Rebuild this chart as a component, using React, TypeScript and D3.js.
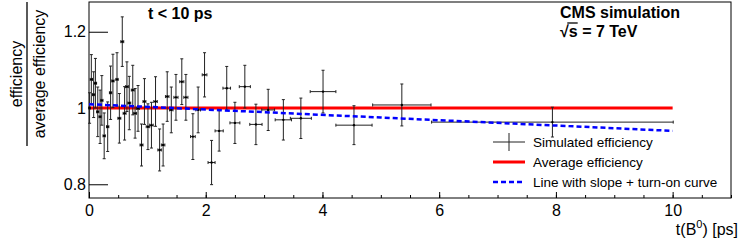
import React, { useEffect, useRef } from "react";
import * as d3 from "d3";

// simulated efficiency points (bin centre, value, y error, half bin width)
const times = [
  0.01, 0.04, 0.08, 0.11, 0.15, 0.19, 0.22, 0.26, 0.32, 0.37, 0.41, 0.48,
  0.52, 0.57, 0.61, 0.65, 0.69, 0.75, 0.79, 0.84, 0.9, 0.95, 1.01, 1.07,
  1.14, 1.21, 1.27, 1.34, 1.41, 1.49, 1.59, 1.66, 1.78, 1.87, 1.98, 2.1,
  2.23, 2.36, 2.5, 2.67, 2.86, 3.07, 3.33, 3.63, 4.01, 4.54, 5.36, 7.94,
];
const effs = [
  1.0, 1.075, 1.035, 1.065, 0.99, 0.977, 1.02, 0.927, 0.951, 1.04, 1.071, 1.075,
  0.973, 1.174, 0.986, 1.056, 1.013, 1.047, 0.986, 0.999, 0.903, 1.017, 0.951, 0.955,
  1.017, 0.89, 0.903, 1.03, 0.995, 1.028, 1.069, 1.028, 0.925, 0.995, 1.087, 0.857,
  0.94, 1.052, 0.961, 1.056, 0.957, 0.995, 0.969, 0.973, 1.043, 0.955, 1.008, 0.963,
];
const errs = [
  0.04, 0.065, 0.06, 0.065, 0.065, 0.07, 0.065, 0.06, 0.065, 0.07, 0.07, 0.07,
  0.065, 0.065, 0.07, 0.065, 0.07, 0.065, 0.065, 0.06, 0.055, 0.06, 0.06, 0.06,
  0.065, 0.055, 0.055, 0.065, 0.06, 0.06, 0.06, 0.06, 0.06, 0.06, 0.058, 0.058,
  0.053, 0.057, 0.054, 0.056, 0.053, 0.054, 0.053, 0.053, 0.056, 0.051, 0.055, 0.039,
];
const halfWidths = [
  0.015, 0.02, 0.02, 0.02, 0.02, 0.02, 0.02, 0.02, 0.02, 0.02, 0.02, 0.02,
  0.025, 0.025, 0.025, 0.025, 0.025, 0.025, 0.025, 0.025, 0.025, 0.025, 0.03, 0.03,
  0.03, 0.03, 0.03, 0.03, 0.03, 0.035, 0.035, 0.035, 0.04, 0.04, 0.04, 0.06,
  0.07, 0.065, 0.085, 0.095, 0.105, 0.11, 0.14, 0.18, 0.22, 0.31, 0.5, 2.07,
];

// average efficiency and fitted curve
const avgTimes = [0, 10];
const avgValues = [1, 1];
const fitTimes = [0, 2.5, 5, 7.5, 10];
const fitValues = [1.01, 0.9925, 0.975, 0.9575, 0.94];

const xTicks = [0, 2, 4, 6, 8, 10];
const xMinorTicks = d3.range(0, 11.01, 0.5);
const yTicks = [0.8, 1, 1.2];
const legendLabels = [
  "Simulated efficiency",
  "Average efficiency",
  "Line with slope + turn-on curve",
];

const font = "'Liberation Sans', Arial, Helvetica, sans-serif";

const drawChart = (node: SVGSVGElement) => {
  const width = 747;
  const height = 241;
  const marginTop = 2;
  const marginRight = 16;
  const marginBottom = 43;
  const marginLeft = 89;

  const svg = d3.select(node);
  svg.selectAll("*").remove();
  svg.attr("width", width).attr("height", height);

  svg.append("rect").attr("width", width).attr("height", height).attr("fill", "#fff");

  const x = d3.scaleLinear().domain([0, 11]).range([marginLeft, width - marginRight]);
  const y = d3.scaleLinear().domain([0.764, 1.278]).range([height - marginBottom, marginTop]);

  // frame
  svg
    .append("rect")
    .attr("x", marginLeft)
    .attr("y", marginTop)
    .attr("width", width - marginRight - marginLeft)
    .attr("height", height - marginBottom - marginTop)
    .attr("fill", "none")
    .attr("stroke", "#000");

  // x axis, ticks pointing inside
  const xAxis = svg
    .append("g")
    .attr("transform", `translate(0,${height - marginBottom})`)
    .call(d3.axisBottom(x).tickValues(xTicks).tickSizeInner(-6).tickSizeOuter(0).tickPadding(7));
  svg
    .append("g")
    .attr("transform", `translate(0,${height - marginBottom})`)
    .call(d3.axisBottom(x).tickValues(xMinorTicks).tickSizeInner(-3).tickSizeOuter(0).tickFormat(() => ""));

  const yAxis = svg
    .append("g")
    .attr("transform", `translate(${marginLeft},0)`)
    .call(
      d3
        .axisLeft(y)
        .tickValues(yTicks)
        .tickSizeInner(-19)
        .tickSizeOuter(0)
        .tickPadding(3)
        .tickFormat((d) => String(d))
    );

  svg.selectAll(".domain").remove();
  svg.selectAll(".tick line").attr("stroke", "#000");
  [xAxis, yAxis].forEach((g) =>
    g.selectAll("text").attr("font-family", font).attr("font-size", 16).attr("fill", "#000")
  );

  // red average line
  const line = d3
    .line<number>()
    .x((d, i) => x(avgTimes[i]))
    .y((d) => y(d));
  svg
    .append("path")
    .attr("d", line(avgValues))
    .attr("fill", "none")
    .attr("stroke", "#ff0000")
    .attr("stroke-width", 3);

  // points with error bars
  const pts = svg.append("g").attr("stroke", "#222").attr("stroke-width", 1);
  times.forEach((t, i) => {
    const cx = x(t);
    const cy = y(effs[i]);
    const y0 = y(effs[i] - errs[i]);
    const y1 = y(effs[i] + errs[i]);
    const x0 = x(t - halfWidths[i]);
    const x1 = x(t + halfWidths[i]);
    pts.append("line").attr("x1", cx).attr("x2", cx).attr("y1", y0).attr("y2", y1);
    pts.append("line").attr("x1", cx - 1.5).attr("x2", cx + 1.5).attr("y1", y0).attr("y2", y0);
    pts.append("line").attr("x1", cx - 1.5).attr("x2", cx + 1.5).attr("y1", y1).attr("y2", y1);
    pts.append("line").attr("x1", x0).attr("x2", x1).attr("y1", cy).attr("y2", cy);
    pts.append("line").attr("x1", x0).attr("x2", x0).attr("y1", cy - 1.5).attr("y2", cy + 1.5);
    pts.append("line").attr("x1", x1).attr("x2", x1).attr("y1", cy - 1.5).attr("y2", cy + 1.5);
    pts.append("circle").attr("cx", cx).attr("cy", cy).attr("r", 1.2).attr("fill", "#000").attr("stroke", "none");
  });

  // blue fit curve
  const fit = d3
    .line<number>()
    .x((d, i) => x(fitTimes[i]))
    .y((d) => y(d));
  svg
    .append("path")
    .attr("d", fit(fitValues))
    .attr("fill", "none")
    .attr("stroke", "#0000ff")
    .attr("stroke-width", 2.5)
    .attr("stroke-dasharray", "5,3");

  // legend
  const lg = svg.append("g").attr("font-family", font).attr("font-size", 13.5);
  const ly = [142, 162, 182];
  lg.append("line").attr("x1", 493).attr("x2", 525).attr("y1", ly[0]).attr("y2", ly[0]).attr("stroke", "#222");
  lg.append("line").attr("x1", 509).attr("x2", 509).attr("y1", ly[0] - 9).attr("y2", ly[0] + 9).attr("stroke", "#222");
  lg.append("line").attr("x1", 493).attr("x2", 525).attr("y1", ly[1]).attr("y2", ly[1]).attr("stroke", "#ff0000").attr("stroke-width", 3);
  lg.append("line")
    .attr("x1", 493)
    .attr("x2", 525)
    .attr("y1", ly[2])
    .attr("y2", ly[2])
    .attr("stroke", "#0000ff")
    .attr("stroke-width", 2.5)
    .attr("stroke-dasharray", "5,3");
  legendLabels.forEach((l, i) => {
    lg.append("text").attr("x", 533).attr("y", ly[i]).attr("dy", "0.35em").text(l);
  });

  // labels
  svg
    .append("text")
    .attr("x", 148)
    .attr("y", 19)
    .attr("font-family", font)
    .attr("font-size", 16)
    .attr("font-weight", "bold")
    .text("t < 10 ps");
  svg
    .append("text")
    .attr("x", 560)
    .attr("y", 18)
    .attr("font-family", font)
    .attr("font-size", 16)
    .attr("font-weight", "bold")
    .text("CMS simulation");
  const sq = svg
    .append("text")
    .attr("x", 560)
    .attr("y", 37)
    .attr("font-family", font)
    .attr("font-size", 16)
    .attr("font-weight", "bold")
    .text("\u221As = 7 TeV");
  const sqNode = sq.node() as SVGTextElement;
  const w1 = sqNode.getSubStringLength(0, 1);
  const w2 = sqNode.getSubStringLength(0, 2);
  svg
    .append("line")
    .attr("x1", 560 + w1 - 1.5)
    .attr("x2", 560 + w2)
    .attr("y1", 37 - 14)
    .attr("y2", 37 - 14)
    .attr("stroke", "#000")
    .attr("stroke-width", 1.3);

  // x title
  const xt = svg
    .append("text")
    .attr("x", 738)
    .attr("y", 235)
    .attr("text-anchor", "end")
    .attr("font-family", font)
    .attr("font-size", 16);
  xt.append("tspan").text("t(B");
  xt.append("tspan").attr("font-size", 11).attr("dy", -7).text("0");
  xt.append("tspan").attr("dy", 7).text(") [ps]");

  // y title as a fraction
  const yt = svg
    .append("g")
    .attr("transform", "translate(27,74) rotate(-90)")
    .attr("font-family", font)
    .attr("font-size", 16)
    .attr("text-anchor", "middle");
  yt.append("text").attr("x", 0).attr("y", -5).text("efficiency");
  yt.append("text").attr("x", 0).attr("y", 18).text("average efficiency");
  yt.append("line").attr("x1", -72).attr("x2", 72).attr("y1", 0).attr("y2", 0).attr("stroke", "#000").attr("stroke-width", 1.3);
};

export default function App() {
  const ref = useRef<SVGSVGElement>(null);
  useEffect(() => {
    if (ref.current) drawChart(ref.current);
  }, []);
  return (
    <div style={{ position: "fixed", left: 0, top: 0 }}>
      <svg ref={ref} style={{ display: "block" }} />
    </div>
  );
}
